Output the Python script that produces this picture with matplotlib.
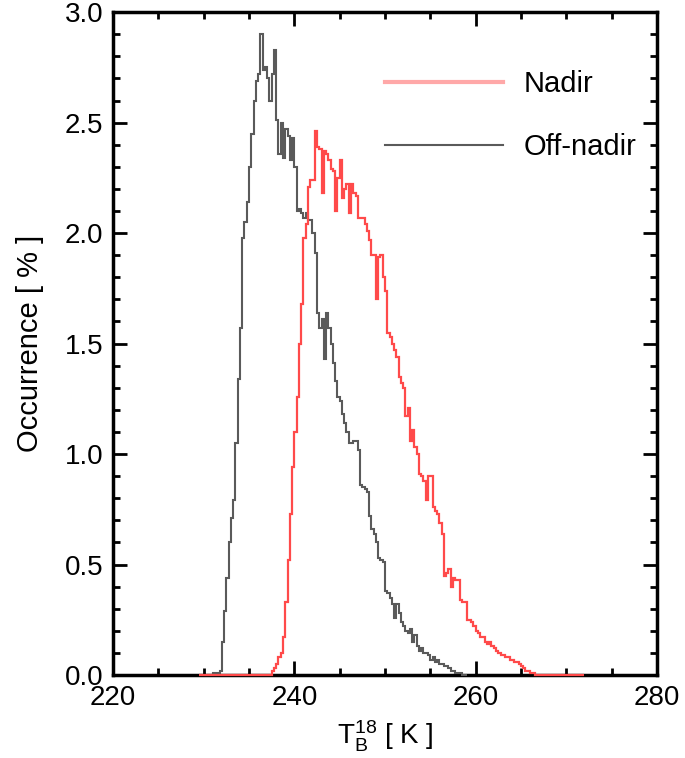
import numpy as np
import matplotlib
matplotlib.use("Agg")
import matplotlib.pyplot as plt
from matplotlib.lines import Line2D
from matplotlib.ticker import MultipleLocator, FormatStrFormatter

plt.rcParams['font.family'] = ['Liberation Sans', 'DejaVu Sans']
plt.rcParams['mathtext.fontset'] = 'custom'
plt.rcParams['mathtext.rm'] = 'Liberation Sans'
plt.rcParams['mathtext.it'] = 'Liberation Sans'

# histogram bins [K]
bin_width = 0.25
nadir_start = 229.5
offnadir_start = 230.0

# occurrence [%] per bin
nadir = [
    0.0, 0.0, 0.0, 0.0, 0.0, 0.0, 0.0, 0.0, 0.0, 0.0, 0.0, 0.0, 0.0, 0.0, 0.0, 0.0,
    0.0, 0.0, 0.0, 0.0, 0.0, 0.0, 0.0, 0.0, 0.0, 0.0, 0.0, 0.0, 0.0, 0.0, 0.0, 0.0,
    0.02, 0.03, 0.05, 0.08, 0.10, 0.17, 0.33, 0.52, 0.73, 0.94, 1.10, 1.26, 1.50, 1.68,
    1.98, 2.04, 2.21, 2.24, 2.24, 2.46, 2.39, 2.38, 2.18, 2.37, 2.36, 2.33, 2.29, 2.28,
    2.10, 2.25, 2.33, 2.16, 2.20, 2.22, 2.09, 2.22, 2.18, 2.17, 2.07, 2.07, 2.07, 2.04,
    2.01, 1.97, 1.90, 1.90, 1.70, 1.89, 1.90, 1.80, 1.74, 1.55, 1.53, 1.50, 1.47, 1.44,
    1.35, 1.32, 1.30, 1.17, 1.21, 1.06, 1.11, 1.03, 1.00, 0.91, 0.90, 0.88, 0.79, 0.90,
    0.90, 0.76, 0.74, 0.73, 0.69, 0.64, 0.45, 0.46, 0.48, 0.40, 0.44, 0.43, 0.43, 0.34,
    0.33, 0.33, 0.25, 0.25, 0.24, 0.22, 0.20, 0.19, 0.17, 0.17, 0.15, 0.14, 0.15, 0.13,
    0.12, 0.11, 0.10, 0.09, 0.09, 0.08, 0.08, 0.07, 0.07, 0.06, 0.06, 0.05, 0.04, 0.03,
    0.02, 0.02, 0.01, 0.01,
    0.0, 0.0, 0.0, 0.0, 0.0, 0.0, 0.0, 0.0, 0.0, 0.0, 0.0, 0.0, 0.0, 0.0, 0.0, 0.0,
    0.0, 0.0, 0.0, 0.0, 0.0, 0.0,
]
offnadir = [
    0.0, 0.0, 0.0, 0.0, 0.01, 0.01, 0.01, 0.02,
    0.15, 0.29, 0.44, 0.60, 0.71, 0.79, 1.05, 1.34, 1.57, 1.98, 2.05, 2.14, 2.30, 2.45,
    2.60, 2.69, 2.72, 2.90, 2.74, 2.75, 2.70, 2.60, 2.72, 2.83, 2.51, 2.36, 2.50, 2.34,
    2.47, 2.44, 2.33, 2.43, 2.30, 2.10, 2.11, 2.09, 2.07, 2.09, 2.06, 2.06, 2.00, 1.91,
    1.64, 1.57, 1.61, 1.43, 1.64, 1.57, 1.50, 1.41, 1.33, 1.26, 1.24, 1.18, 1.14, 1.10,
    1.05, 1.05, 1.06, 1.06, 1.02, 0.86, 0.85, 0.84, 0.83, 0.72, 0.66, 0.64, 0.60, 0.53,
    0.52, 0.51, 0.38, 0.37, 0.35, 0.32, 0.26, 0.32, 0.28, 0.24, 0.22, 0.20, 0.19, 0.21,
    0.15, 0.18, 0.13, 0.11, 0.12, 0.10, 0.10, 0.09, 0.07, 0.08, 0.06, 0.07, 0.05, 0.05,
    0.04, 0.04, 0.03, 0.02, 0.02, 0.01, 0.01, 0.01, 0.0, 0.0,
]
labels = ['Nadir', 'Off-nadir']

fig = plt.figure(figsize=(6.85, 7.58), dpi=100)
ax = fig.add_axes([0.165, 0.1095, 0.794, 0.8745])

nadir_edges = nadir_start + bin_width * np.arange(len(nadir) + 1)
off_edges = offnadir_start + bin_width * np.arange(len(offnadir) + 1)

ax.stairs(offnadir, off_edges, color='#5a5a5a', lw=1.5, baseline=None,
          clip_on=False, zorder=3)
ax.stairs(nadir, nadir_edges, color='#ff4a4a', lw=1.6, baseline=None,
          clip_on=False, zorder=3)

ax.set_xlim(220, 280)
ax.set_ylim(0, 3.0)
ax.xaxis.set_major_locator(MultipleLocator(20))
ax.xaxis.set_minor_locator(MultipleLocator(5))
ax.yaxis.set_major_locator(MultipleLocator(0.5))
ax.yaxis.set_minor_locator(MultipleLocator(0.1))
ax.yaxis.set_major_formatter(FormatStrFormatter('%.1f'))

ax.tick_params(which='both', direction='in', top=True, right=True,
               labelsize=20, width=2, color='black')
ax.tick_params(which='major', length=10, pad=7)
ax.tick_params(which='minor', length=5)
for s in ax.spines.values():
    s.set_linewidth(2.5)

ax.set_xlabel(r'T$_\mathrm{B}^\mathrm{18}$ [ K ]', fontsize=20, labelpad=6)
ax.set_ylabel('Occurrence [ % ]', fontsize=21, labelpad=15)

handles = [Line2D([], [], color='#ffa8a8', lw=3),
           Line2D([], [], color='#5a5a5a', lw=1.5)]
ax.legend(handles, labels, loc='upper right', frameon=False, fontsize=21,
          handlelength=4.05, handletextpad=0.7, labelspacing=1.2,
          borderpad=0, borderaxespad=0, bbox_to_anchor=(0.963, 0.913))

fig.savefig('out.png', dpi=100)
